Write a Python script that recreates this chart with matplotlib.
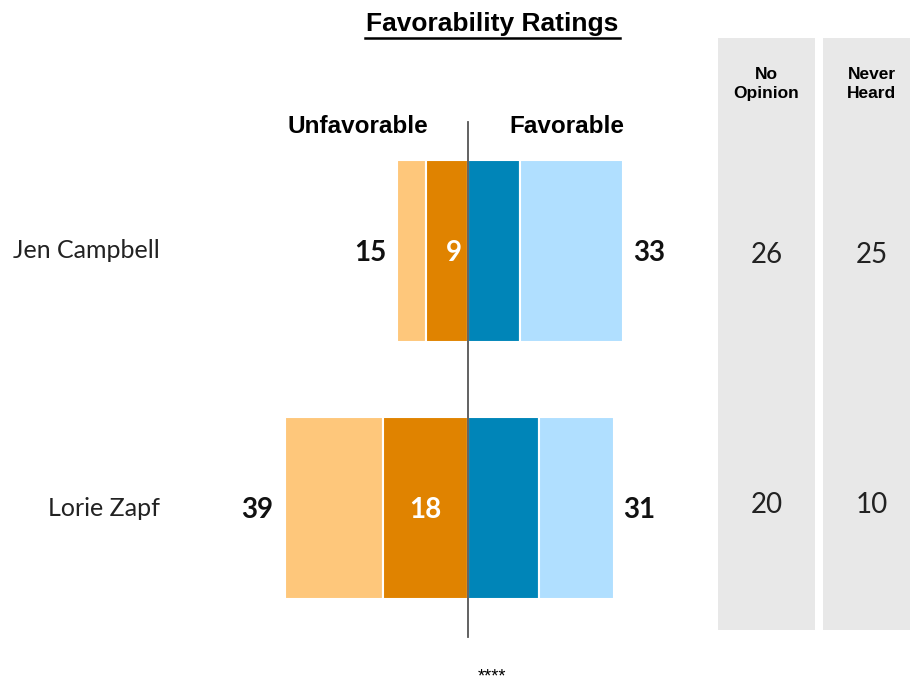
import matplotlib.pyplot as plt
import numpy as np

candidates = ["Jen Campbell", "Lorie Zapf"]
unfav_total = [15, 39]
unfav_strong = [9, 18]
fav_total = [33, 31]
fav_strong = [11, 15]
no_opinion = [26, 20]
never_heard = [25, 10]

W, H = 910, 686
fig = plt.figure(figsize=(W / 100, H / 100), dpi=100)

name_font = ["Lato", "DejaVu Sans"]
arial = ["Liberation Sans", "DejaVu Sans"]

# pixel mapping helpers (layout only)
center_px = 468
ppu = 4.7  # pixels per percentage point
row0_px, row_step = 251, 257

def y_idx(py):
    return (py - row0_px) / row_step

ax = fig.add_axes([0, 0, 1, 1])
ax.set_xlim(-center_px / ppu, (W - center_px) / ppu)
ax.set_ylim(y_idx(H), y_idx(0))
ax.axis("off")

# Gray panels
for (x0, x1) in [(718, 815), (823, 920)]:
    pax = fig.add_axes([x0 / W, (H - 630) / H, (x1 - x0) / W, (630 - 38) / H])
    pax.set_facecolor("#e8e8e8")
    pax.set_xlim(0, 1)
    pax.set_ylim(y_idx(630), y_idx(38))
    for s in pax.spines.values():
        s.set_visible(False)
    pax.set_xticks([]); pax.set_yticks([])
    pax.set_zorder(0)
    if x0 == 718:
        vals, hdr = no_opinion, "No\nOpinion"
    else:
        vals, hdr = never_heard, "Never\nHeard"
    pax.text(0.5, y_idx(84), hdr, ha="center", va="center", fontsize=12.5,
             fontweight="bold", family=arial, linespacing=1.35)
    for i, v in enumerate(vals):
        yy = i + (4 / row_step if i == 0 else -3 / row_step)
        pax.text(0.5, yy, str(v), ha="center", va="center", fontsize=20,
                 family=name_font, color="#222222")

ax.set_zorder(1)
ax.patch.set_alpha(0)

y = np.arange(len(candidates))
h = 182 / row_step
lt_orange, dk_orange = "#FEC77B", "#E08300"
dk_blue, lt_blue = "#0085B8", "#B0DFFF"

ut = np.array(unfav_total); us = np.array(unfav_strong)
ft = np.array(fav_total); fs = np.array(fav_strong)

ax.barh(y, -(ut - us), left=-us, height=h, color=lt_orange, edgecolor="white", linewidth=1.5)
ax.barh(y, -us, left=0, height=h, color=dk_orange, edgecolor="white", linewidth=1.5)
ax.barh(y, fs, left=0, height=h, color=dk_blue, edgecolor="white", linewidth=1.5)
ax.barh(y, ft - fs, left=fs, height=h, color=lt_blue, edgecolor="white", linewidth=1.5)

ax.plot([0, 0], [-0.5, 1.5], color="#555555", lw=1.3, zorder=5)

for i in range(len(candidates)):
    ax.text(-ut[i] - 2.4, i + 2 / row_step, str(ut[i]), ha="right", va="center", fontsize=20,
            fontweight="bold", family=name_font, color="#111111")
    ax.text(-us[i] / 2 if i == 1 else -us[i] + 6.0, i + 2 / row_step, str(us[i]), ha="center",
            va="center", fontsize=20, fontweight="bold", family=name_font, color="white")
    ax.text(ft[i] + 2.1, i + 2 / row_step, str(ft[i]), ha="left", va="center", fontsize=20,
            fontweight="bold", family=name_font, color="#111111")
    ax.text((160 - center_px) / ppu, i, candidates[i], ha="right", va="center",
            fontsize=18, family=name_font, color="#222222")

ax.text((358 - center_px) / ppu, y_idx(127), "Unfavorable", ha="center", va="center",
        fontsize=17.5, fontweight="bold", family=arial)
ax.text((567 - center_px) / ppu, y_idx(127), "Favorable", ha="center", va="center",
        fontsize=17.5, fontweight="bold", family=arial)

ax.text((492 - center_px) / ppu, y_idx(24), "Favorability Ratings", ha="center",
        va="center", fontsize=19, fontweight="bold", family=arial)
# underline
ax.plot([(365 - center_px) / ppu, (620 - center_px) / ppu], [y_idx(38), y_idx(38)],
        color="black", lw=1.8)

ax.text((492 - center_px) / ppu, y_idx(685), "****", ha="center", va="bottom",
        fontsize=13, family=arial)

fig.savefig("out.png", dpi=100)
